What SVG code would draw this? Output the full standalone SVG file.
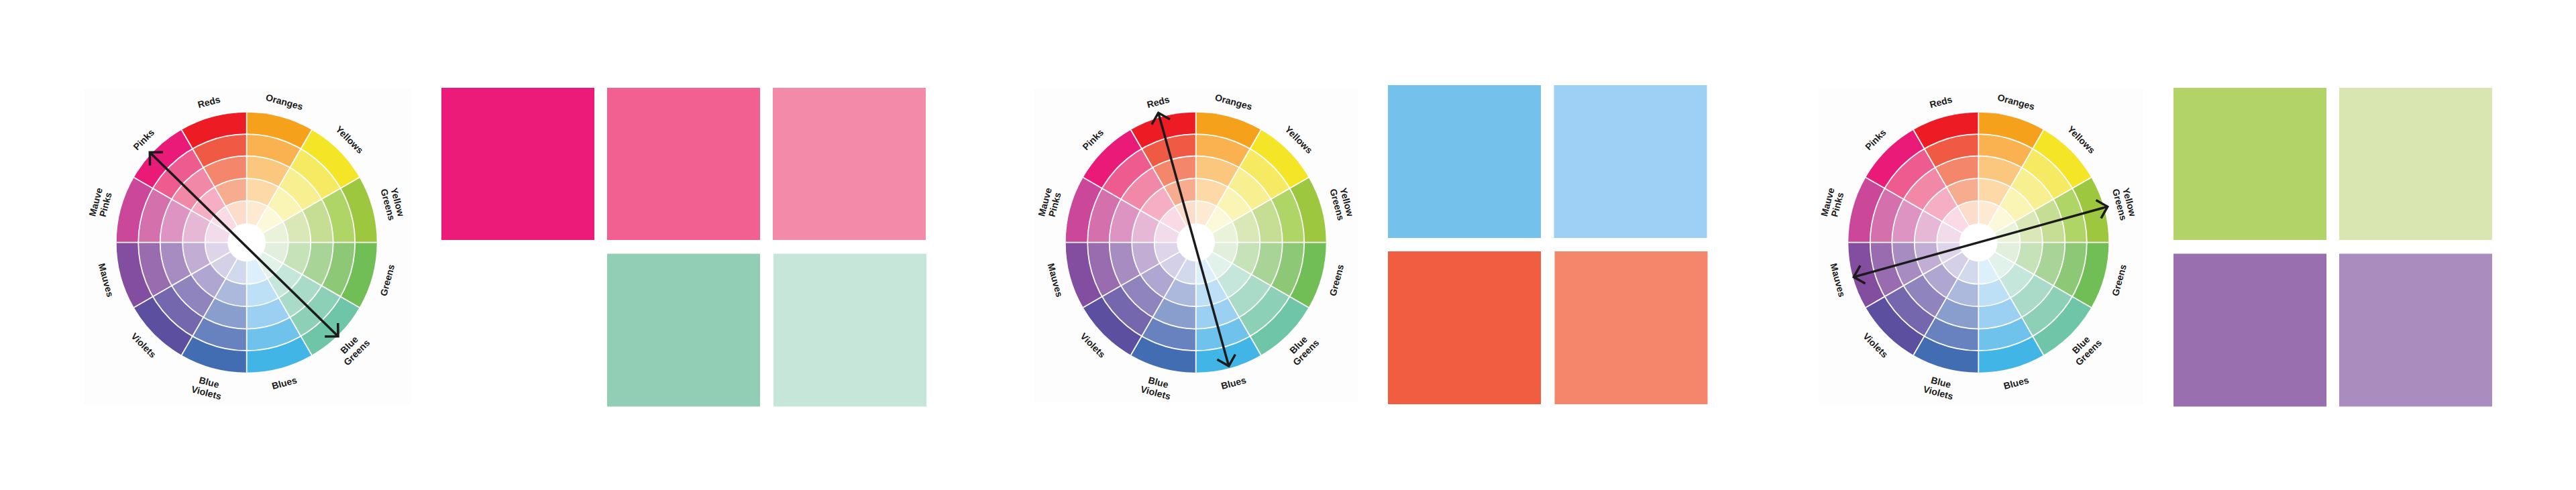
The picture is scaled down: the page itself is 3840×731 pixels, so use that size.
<svg xmlns="http://www.w3.org/2000/svg" xmlns:xlink="http://www.w3.org/1999/xlink" width="3840" height="731" viewBox="0 0 3840 731">
<style>
.lbl text{font-family:"Liberation Sans",Arial,sans-serif;font-weight:700;font-size:14px;fill:#1a1a1a;text-anchor:middle}
.sep{fill:none;stroke:#fff;stroke-width:1.8}
.arrow{fill:none;stroke:#1b1b1b;stroke-width:3.5}
.bg{fill:#fdfdfd}
</style>
<defs>
<path id="w5" d="M0 0L0 -194A194 194 0 0 1 97 -168.01Z"/>
<path id="w4" d="M0 0L0 -161.5A161.5 161.5 0 0 1 80.75 -139.86Z"/>
<path id="w3" d="M0 0L0 -129A129 129 0 0 1 64.5 -111.72Z"/>
<path id="w2" d="M0 0L0 -95.5A95.5 95.5 0 0 1 47.75 -82.71Z"/>
<path id="w1" d="M0 0L0 -62A62 62 0 0 1 31 -53.69Z"/>
<g id="wheel">
<g><use href="#w5" fill="#F6A11C"/><use href="#w4" fill="#F9B24F"/><use href="#w3" fill="#FBC67E"/><use href="#w2" fill="#FDD9A8"/><use href="#w1" fill="#FEEAD3"/></g>
<g transform="rotate(30)"><use href="#w5" fill="#F4E526"/><use href="#w4" fill="#F6EA63"/><use href="#w3" fill="#F8F090"/><use href="#w2" fill="#FAF4B5"/><use href="#w1" fill="#FCF9DA"/></g>
<g transform="rotate(60)"><use href="#w5" fill="#9CC73F"/><use href="#w4" fill="#AED565"/><use href="#w3" fill="#C6DE93"/><use href="#w2" fill="#D9E8B6"/><use href="#w1" fill="#EAF2DA"/></g>
<g transform="rotate(90)"><use href="#w5" fill="#70BE55"/><use href="#w4" fill="#8DC876"/><use href="#w3" fill="#A8D597"/><use href="#w2" fill="#C5E2B9"/><use href="#w1" fill="#E1EFDC"/></g>
<g transform="rotate(120)"><use href="#w5" fill="#6FC5A7"/><use href="#w4" fill="#8DD0B8"/><use href="#w3" fill="#A9DBC8"/><use href="#w2" fill="#C5E6DA"/><use href="#w1" fill="#E1F2EB"/></g>
<g transform="rotate(150)"><use href="#w5" fill="#41B6E6"/><use href="#w4" fill="#6FC2EB"/><use href="#w3" fill="#9CD0F3"/><use href="#w2" fill="#BEE0F6"/><use href="#w1" fill="#DDEFFA"/></g>
<g transform="rotate(180)"><use href="#w5" fill="#436DB2"/><use href="#w4" fill="#6882C0"/><use href="#w3" fill="#8A9ECE"/><use href="#w2" fill="#ACB9DC"/><use href="#w1" fill="#D2D9EC"/></g>
<g transform="rotate(210)"><use href="#w5" fill="#5C4F9F"/><use href="#w4" fill="#7567AE"/><use href="#w3" fill="#8F84BE"/><use href="#w2" fill="#AFA6D1"/><use href="#w1" fill="#D4D0E7"/></g>
<g transform="rotate(240)"><use href="#w5" fill="#834E9F"/><use href="#w4" fill="#986CAE"/><use href="#w3" fill="#A68CC0"/><use href="#w2" fill="#C2ADD5"/><use href="#w1" fill="#DFD5EA"/></g>
<g transform="rotate(270)"><use href="#w5" fill="#CB4799"/><use href="#w4" fill="#D470AB"/><use href="#w3" fill="#DD94C3"/><use href="#w2" fill="#E6B8D6"/><use href="#w1" fill="#F2DBEA"/></g>
<g transform="rotate(300)"><use href="#w5" fill="#E91A78"/><use href="#w4" fill="#EE5B8F"/><use href="#w3" fill="#F288A8"/><use href="#w2" fill="#F5AEC4"/><use href="#w1" fill="#FADAE5"/></g>
<g transform="rotate(330)"><use href="#w5" fill="#ED1C24"/><use href="#w4" fill="#F05A45"/><use href="#w3" fill="#F4876B"/><use href="#w2" fill="#F7AB8F"/><use href="#w1" fill="#FCDCCB"/></g>
<g class="sep">
<circle r="62"/><circle r="95.5"/><circle r="129"/><circle r="161.5"/>
<line x1="0" y1="-194" x2="0" y2="194"/>
<line x1="0" y1="-194" x2="0" y2="194" transform="rotate(30)"/>
<line x1="0" y1="-194" x2="0" y2="194" transform="rotate(60)"/>
<line x1="0" y1="-194" x2="0" y2="194" transform="rotate(90)"/>
<line x1="0" y1="-194" x2="0" y2="194" transform="rotate(120)"/>
<line x1="0" y1="-194" x2="0" y2="194" transform="rotate(150)"/>
</g>
<circle r="28.5" fill="#fff"/>
</g>
<marker id="head" viewBox="-20 -20 40 40" markerWidth="40" markerHeight="40" refX="0" refY="0" markerUnits="userSpaceOnUse" orient="auto-start-reverse" overflow="visible">
<path d="M-14 -14L0 0L-14 14" fill="none" stroke="#1b1b1b" stroke-width="3.5"/>
</marker>
</defs>
<rect width="3840" height="731" fill="#fff"/>

<g id="wheel-1">
<rect class="bg" x="125" y="132" width="488" height="471"/>
<use href="#wheel" transform="translate(367.7 361.7)"/>
<g class="lbl" transform="translate(367.7 361.7)">
<text transform="rotate(-15)" y="-212">Reds</text>
<text transform="rotate(15)" y="-212">Oranges</text>
<text transform="rotate(45)" y="-212">Yellows</text>
<text transform="rotate(75)"><tspan x="0" y="-228">Yellow</tspan><tspan x="0" y="-213">Greens</tspan></text>
<text transform="rotate(-75)" y="222">Greens</text>
<text transform="rotate(-45)"><tspan x="0" y="221">Blue</tspan><tspan x="0" y="237">Greens</tspan></text>
<text transform="rotate(-15)" y="222">Blues</text>
<text transform="rotate(15)"><tspan x="0" y="221">Blue</tspan><tspan x="0" y="237">Violets</tspan></text>
<text transform="rotate(45)" y="222">Violets</text>
<text transform="rotate(75)" y="222">Mauves</text>
<text transform="rotate(-75)"><tspan x="0" y="-228">Mauve</tspan><tspan x="0" y="-213">Pinks</tspan></text>
<text transform="rotate(-45)" y="-212">Pinks</text>
</g>
</g>

<g id="swatches-1">
<rect x="658" y="131" width="228" height="227" fill="#EC1A78"/>
<rect x="905" y="131" width="228" height="227" fill="#F26091"/>
<rect x="1152" y="131" width="228" height="227" fill="#F38AA9"/>
<rect x="905" y="378.5" width="228" height="228" fill="#92CEB6"/>
<rect x="1153" y="378.5" width="228" height="228" fill="#C5E6D9"/>
</g>

<g id="wheel-2">
<rect class="bg" x="1541" y="132" width="483" height="468"/>
<use href="#wheel" transform="translate(1782.7 361.7)"/>
<g class="lbl" transform="translate(1782.7 361.7)">
<text transform="rotate(-15)" y="-212">Reds</text>
<text transform="rotate(15)" y="-212">Oranges</text>
<text transform="rotate(45)" y="-212">Yellows</text>
<text transform="rotate(75)"><tspan x="0" y="-228">Yellow</tspan><tspan x="0" y="-213">Greens</tspan></text>
<text transform="rotate(-75)" y="222">Greens</text>
<text transform="rotate(-45)"><tspan x="0" y="221">Blue</tspan><tspan x="0" y="237">Greens</tspan></text>
<text transform="rotate(-15)" y="222">Blues</text>
<text transform="rotate(15)"><tspan x="0" y="221">Blue</tspan><tspan x="0" y="237">Violets</tspan></text>
<text transform="rotate(45)" y="222">Violets</text>
<text transform="rotate(75)" y="222">Mauves</text>
<text transform="rotate(-75)"><tspan x="0" y="-228">Mauve</tspan><tspan x="0" y="-213">Pinks</tspan></text>
<text transform="rotate(-45)" y="-212">Pinks</text>
</g>
</g>

<g id="swatches-2">
<rect x="2069" y="127" width="228" height="228" fill="#74C1EC"/>
<rect x="2316.5" y="127" width="228" height="228" fill="#9ECFF5"/>
<rect x="2069" y="375" width="228" height="228" fill="#F05D40"/>
<rect x="2317.5" y="375" width="228" height="228" fill="#F5856B"/>
</g>

<g id="wheel-3">
<rect class="bg" x="2710" y="132" width="485" height="471"/>
<use href="#wheel" transform="translate(2949.3 361.7)"/>
<g class="lbl" transform="translate(2949.3 361.7)">
<text transform="rotate(-15)" y="-212">Reds</text>
<text transform="rotate(15)" y="-212">Oranges</text>
<text transform="rotate(45)" y="-212">Yellows</text>
<text transform="rotate(75)"><tspan x="0" y="-228">Yellow</tspan><tspan x="0" y="-213">Greens</tspan></text>
<text transform="rotate(-75)" y="222">Greens</text>
<text transform="rotate(-45)"><tspan x="0" y="221">Blue</tspan><tspan x="0" y="237">Greens</tspan></text>
<text transform="rotate(-15)" y="222">Blues</text>
<text transform="rotate(15)"><tspan x="0" y="221">Blue</tspan><tspan x="0" y="237">Violets</tspan></text>
<text transform="rotate(45)" y="222">Violets</text>
<text transform="rotate(75)" y="222">Mauves</text>
<text transform="rotate(-75)"><tspan x="0" y="-228">Mauve</tspan><tspan x="0" y="-213">Pinks</tspan></text>
<text transform="rotate(-45)" y="-212">Pinks</text>
</g>
</g>

<g id="swatches-3">
<rect x="3240" y="131" width="228" height="227" fill="#B1D367"/>
<rect x="3487" y="131" width="228" height="227" fill="#D9E6B2"/>
<rect x="3240" y="378.5" width="228" height="228" fill="#9A6FB0"/>
<rect x="3487" y="378.5" width="228" height="228" fill="#AA8DBE"/>
</g>

<g id="connectors">
<line class="arrow" x1="223.3" y1="227.3" x2="504" y2="501.7" marker-start="url(#head)" marker-end="url(#head)"/>
<line class="arrow" x1="1726.7" y1="168.3" x2="1831.7" y2="546" marker-start="url(#head)" marker-end="url(#head)"/>
<line class="arrow" x1="2763.3" y1="413.3" x2="3141.7" y2="308.3" marker-start="url(#head)" marker-end="url(#head)"/>
</g>
</svg>
